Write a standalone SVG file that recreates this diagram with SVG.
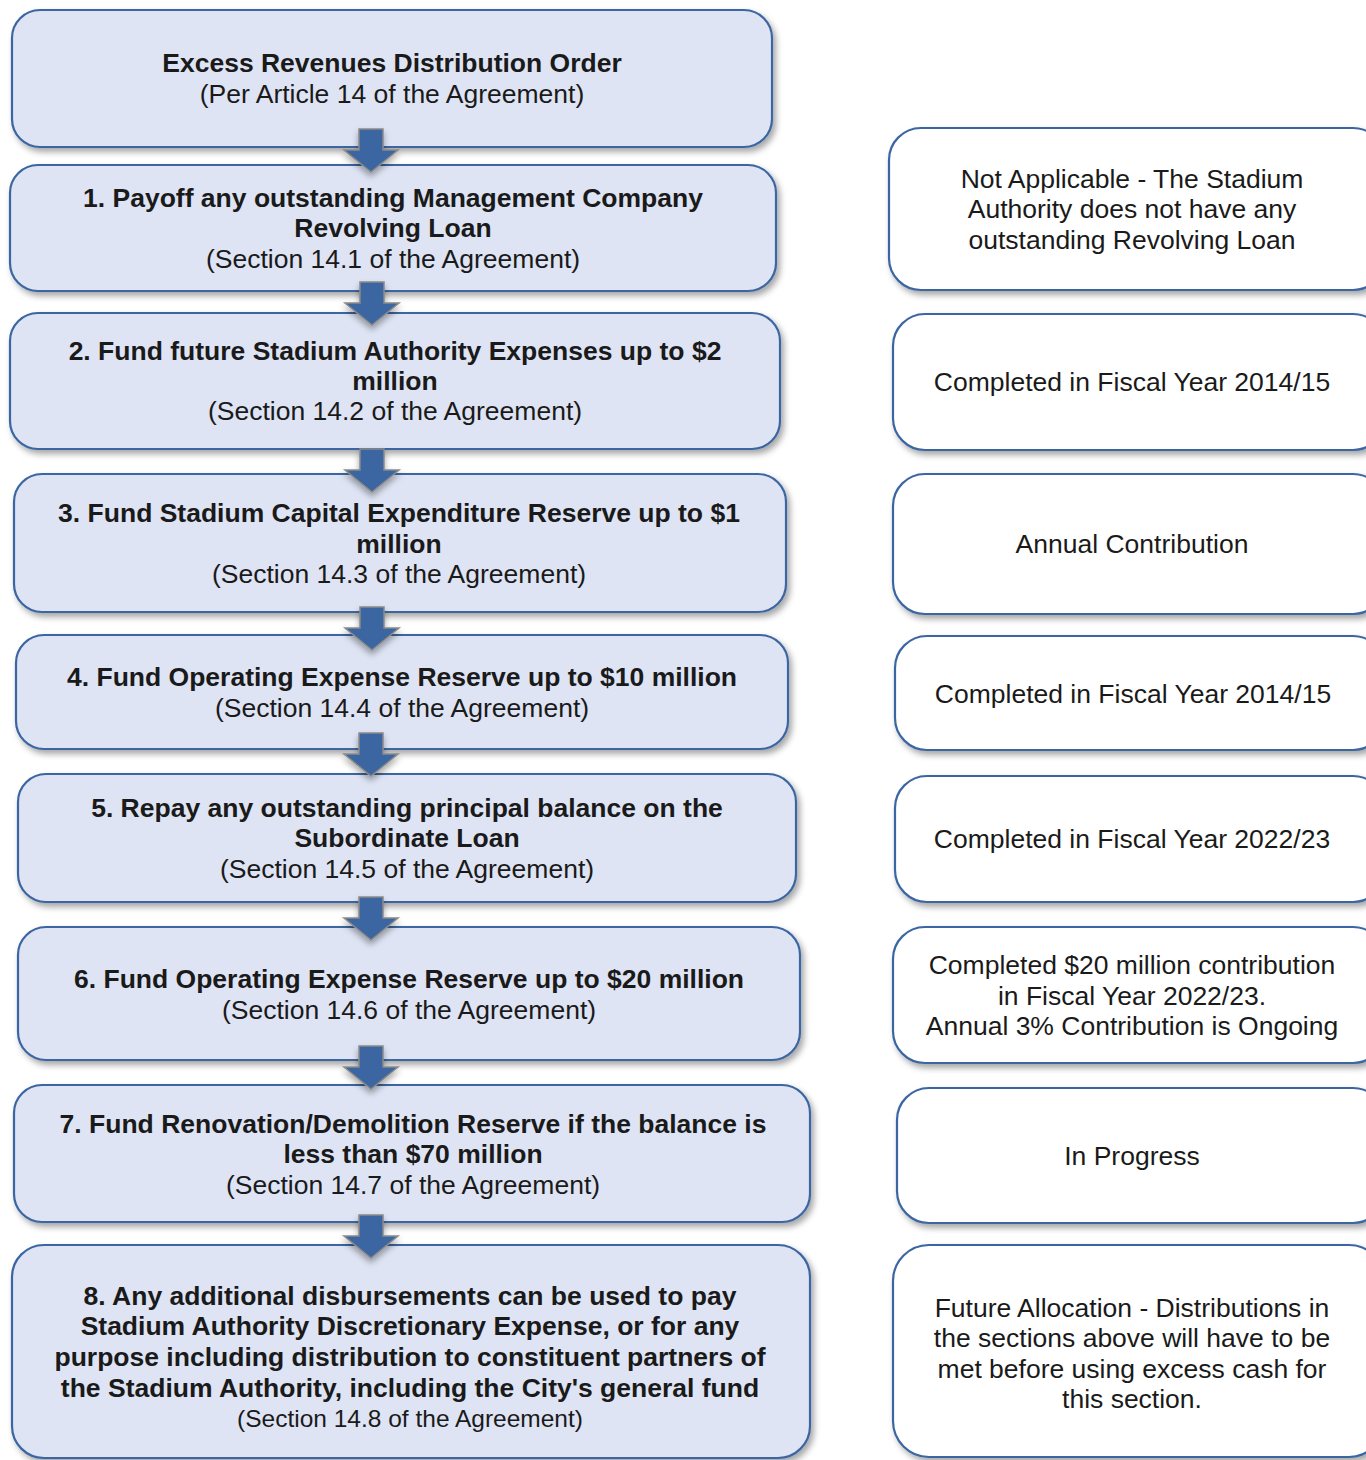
<svg xmlns="http://www.w3.org/2000/svg" width="1366" height="1460" viewBox="0 0 1366 1460">
<defs>
<filter id="sh" x="-5%" y="-10%" width="115%" height="130%">
<feDropShadow dx="3" dy="4" stdDeviation="3" flood-color="#000" flood-opacity="0.35"/>
</filter>
<filter id="ash" x="-30%" y="-30%" width="160%" height="170%">
<feDropShadow dx="0" dy="4" stdDeviation="3" flood-color="#000" flood-opacity="0.35"/>
</filter>
<path id="arrow" d="M-12,0 H12 V21 H27 L0,43 L-27,21 H-12 Z"/>
</defs>
<style>
.lb{fill:#dee4f4;stroke:#3b66a1;stroke-width:2.2;filter:url(#sh)}
.rb{fill:#ffffff;stroke:#3b66a1;stroke-width:2.2;filter:url(#sh)}
text{font-family:"Liberation Sans",Arial,sans-serif;font-size:26.5px;fill:#1a1a1a;text-anchor:middle}
.b{font-weight:bold}
.sm{font-size:24.5px}
.conn line{stroke:#3b66a1;stroke-width:5;filter:url(#sh)}
.arr use{fill:#3b66a1;stroke:#8a8a8a;stroke-width:1.5;filter:url(#ash)}
</style>
<rect width="1366" height="1460" fill="#ffffff"/>

<g id="connectors" class="conn">
<line x1="776" y1="226" x2="889" y2="226"/>
<line x1="780" y1="380" x2="893" y2="380"/>
<line x1="786" y1="547" x2="893" y2="547"/>
<line x1="788" y1="696" x2="895" y2="696"/>
<line x1="796" y1="835" x2="895" y2="835"/>
<line x1="800" y1="997" x2="893" y2="997"/>
<line x1="810" y1="1155" x2="897" y2="1155"/>
<line x1="810" y1="1360" x2="893" y2="1360"/>
</g>

<g id="node0"><rect class="lb" x="12" y="10" width="760" height="137" rx="28"/>
<text x="392" y="72" class="b">Excess Revenues Distribution Order</text>
<text x="392" y="103">(Per Article 14 of the Agreement)</text></g>

<g id="node1"><rect class="lb" x="10" y="165" width="766" height="126" rx="28"/>
<text x="393" y="207" class="b">1. Payoff any outstanding Management Company</text>
<text x="393" y="237" class="b">Revolving Loan</text>
<text x="393" y="268">(Section 14.1 of the Agreement)</text></g>

<g id="node2"><rect class="lb" x="10" y="313" width="770" height="136" rx="28"/>
<text x="395" y="360" class="b">2. Fund future Stadium Authority Expenses up to $2</text>
<text x="395" y="390" class="b">million</text>
<text x="395" y="420">(Section 14.2 of the Agreement)</text></g>

<g id="node3"><rect class="lb" x="14" y="474" width="772" height="138" rx="28"/>
<text x="399" y="522" class="b">3. Fund Stadium Capital Expenditure Reserve up to $1</text>
<text x="399" y="553" class="b">million</text>
<text x="399" y="583">(Section 14.3 of the Agreement)</text></g>

<g id="node4"><rect class="lb" x="16" y="635" width="772" height="114" rx="28"/>
<text x="402" y="686" class="b">4. Fund Operating Expense Reserve up to $10 million</text>
<text x="402" y="717">(Section 14.4 of the Agreement)</text></g>

<g id="node5"><rect class="lb" x="18" y="774" width="778" height="128" rx="28"/>
<text x="407" y="817" class="b">5. Repay any outstanding principal balance on the</text>
<text x="407" y="847" class="b">Subordinate Loan</text>
<text x="407" y="878">(Section 14.5 of the Agreement)</text></g>

<g id="node6"><rect class="lb" x="18" y="927" width="782" height="133" rx="28"/>
<text x="409" y="988" class="b">6. Fund Operating Expense Reserve up to $20 million</text>
<text x="409" y="1019">(Section 14.6 of the Agreement)</text></g>

<g id="node7"><rect class="lb" x="14" y="1085" width="796" height="137" rx="28"/>
<text x="413" y="1133" class="b">7. Fund Renovation/Demolition Reserve if the balance is</text>
<text x="413" y="1163" class="b">less than $70 million</text>
<text x="413" y="1194">(Section 14.7 of the Agreement)</text></g>

<g id="node8"><rect class="lb" x="12" y="1245" width="798" height="213" rx="32"/>
<text x="410" y="1305" class="b">8. Any additional disbursements can be used to pay</text>
<text x="410" y="1335" class="b">Stadium Authority Discretionary Expense, or for any</text>
<text x="410" y="1366" class="b">purpose including distribution to constituent partners of</text>
<text x="410" y="1397" class="b">the Stadium Authority, including the City's general fund</text>
<text x="410" y="1427" class="sm">(Section 14.8 of the Agreement)</text></g>

<g id="arrows" class="arr">
<use href="#arrow" x="371" y="129"/>
<use href="#arrow" x="372" y="282"/>
<use href="#arrow" x="372" y="449"/>
<use href="#arrow" x="372" y="607"/>
<use href="#arrow" x="371" y="733"/>
<use href="#arrow" x="371" y="897"/>
<use href="#arrow" x="371" y="1046"/>
<use href="#arrow" x="371" y="1215"/>
</g>

<g id="status1"><rect class="rb" x="889" y="128" width="496" height="162" rx="32"/>
<text x="1132" y="188">Not Applicable - The Stadium</text>
<text x="1132" y="218">Authority does not have any</text>
<text x="1132" y="249">outstanding Revolving Loan</text></g>

<g id="status2"><rect class="rb" x="893" y="314" width="492" height="136" rx="32"/>
<text x="1132" y="391">Completed in Fiscal Year 2014/15</text></g>

<g id="status3"><rect class="rb" x="893" y="474" width="492" height="140" rx="32"/>
<text x="1132" y="553">Annual Contribution</text></g>

<g id="status4"><rect class="rb" x="895" y="636" width="490" height="114" rx="32"/>
<text x="1133" y="703">Completed in Fiscal Year 2014/15</text></g>

<g id="status5"><rect class="rb" x="895" y="776" width="490" height="126" rx="32"/>
<text x="1132" y="848">Completed in Fiscal Year 2022/23</text></g>

<g id="status6"><rect class="rb" x="893" y="927" width="492" height="136" rx="32"/>
<text x="1132" y="974">Completed $20 million contribution</text>
<text x="1132" y="1005">in Fiscal Year 2022/23.</text>
<text x="1132" y="1035">Annual 3% Contribution is Ongoing</text></g>

<g id="status7"><rect class="rb" x="897" y="1088" width="488" height="135" rx="32"/>
<text x="1132" y="1165">In Progress</text></g>

<g id="status8"><rect class="rb" x="893" y="1245" width="492" height="212" rx="36"/>
<text x="1132" y="1317">Future Allocation - Distributions in</text>
<text x="1132" y="1347">the sections above will have to be</text>
<text x="1132" y="1378">met before using excess cash for</text>
<text x="1132" y="1408">this section.</text></g>
</svg>
